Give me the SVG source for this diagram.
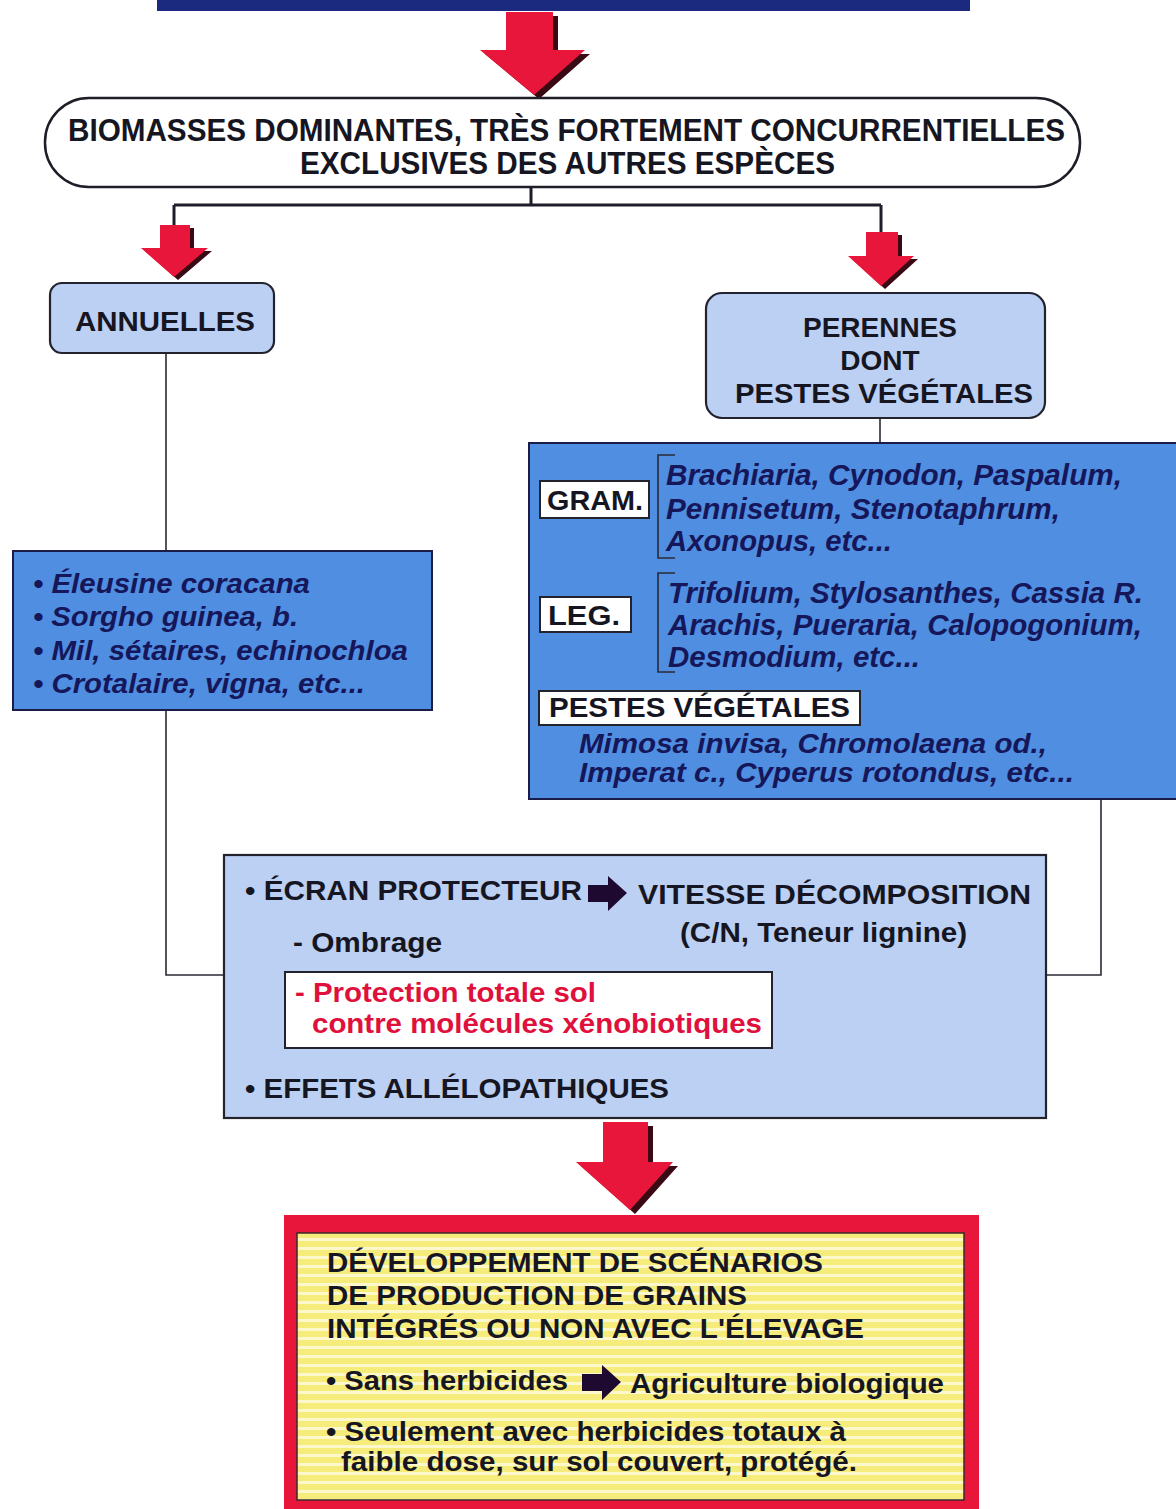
<svg xmlns="http://www.w3.org/2000/svg" width="1176" height="1509" viewBox="0 0 1176 1509">
<style>
.t{font-family:"Liberation Sans",Arial,sans-serif;font-weight:bold;fill:#161622}
.it{font-family:"Liberation Sans",Arial,sans-serif;font-weight:bold;font-style:italic;fill:#16165a}
.red{fill:#e0103c}
.arr{fill:#e8163a}
.sh{fill:#3a0a14}
.con{fill:none;stroke:#1e1e2a;stroke-width:3}
.thin{fill:none;stroke:#2a2a35;stroke-width:1.6}
.lb{fill:#bcd0f4;stroke:#23232e;stroke-width:2.2}
.db{fill:#4f8ee0;stroke:#1c1c48;stroke-width:2}
.wb{fill:#ffffff;stroke:#23232e;stroke-width:2}
.da{fill:#1e0a30}
</style>
<defs>
<pattern id="stripes" width="10" height="9" patternUnits="userSpaceOnUse">
<rect width="10" height="9" fill="#f5ec7c"/>
<rect y="5" width="10" height="3" fill="#fcf8cc"/>
</pattern>
</defs>

<g id="topbar"><rect x="157" y="0" width="813" height="11" fill="#1b2a7e"/></g>

<g id="connectors">
<path class="con" d="M531 187 V205 M174 205 H881 M174 205 V226 M881 205 V233"/>
<path class="thin" d="M166 353 V552 M166 710 V975 H224 M880 418 V443 M1101 800 V975 H1046"/>
<g id="arrow-top">
<polygon class="sh" transform="translate(5,4)" points="506,12 553,12 553,50 585,50 534,95 480,50 506,50"/>
<polygon class="arr" points="506,12 553,12 553,50 585,50 534,95 480,50 506,50"/>
</g>
<g id="arrow-left">
<polygon class="sh" transform="translate(4,3)" points="160,225 190,225 190,248 208,248 174,277 141,248 160,248"/>
<polygon class="arr" points="160,225 190,225 190,248 208,248 174,277 141,248 160,248"/>
</g>
<g id="arrow-right">
<polygon class="sh" transform="translate(4,3)" points="866,232 898,232 898,256 914,256 881,286 848,256 866,256"/>
<polygon class="arr" points="866,232 898,232 898,256 914,256 881,286 848,256 866,256"/>
</g>
<g id="arrow-bottom">
<polygon class="sh" transform="translate(5,4)" points="603,1122 648,1122 648,1162 673,1162 630,1210 576,1162 603,1162"/>
<polygon class="arr" points="603,1122 648,1122 648,1162 673,1162 630,1210 576,1162 603,1162"/>
</g>
</g>

<g id="biomasses">
<rect x="45" y="98" width="1035" height="89" rx="44" fill="#ffffff" stroke="#1e1e28" stroke-width="2.5"/>
<text class="t" x="68" y="141" font-size="31" textLength="997" lengthAdjust="spacingAndGlyphs">BIOMASSES DOMINANTES, TRÈS FORTEMENT CONCURRENTIELLES</text>
<text class="t" x="300" y="174" font-size="31" textLength="535" lengthAdjust="spacingAndGlyphs">EXCLUSIVES DES AUTRES ESPÈCES</text>
</g>

<g id="annuelles">
<rect class="lb" x="50" y="283" width="224" height="70" rx="12"/>
<text class="t" x="75" y="331" font-size="28" textLength="180" lengthAdjust="spacingAndGlyphs">ANNUELLES</text>
</g>

<g id="perennes">
<rect class="lb" x="706" y="293" width="339" height="125" rx="16"/>
<text class="t" x="880" y="337" font-size="28" text-anchor="middle">PERENNES</text>
<text class="t" x="880" y="370" font-size="28" text-anchor="middle">DONT</text>
<text class="t" x="884" y="403" font-size="28" text-anchor="middle" textLength="298" lengthAdjust="spacingAndGlyphs">PESTES VÉGÉTALES</text>
</g>

<g id="annuelles-list">
<rect class="db" x="13" y="551" width="419" height="159"/>
<text class="it" x="33" y="593" font-size="27" textLength="277" lengthAdjust="spacingAndGlyphs">• Éleusine coracana</text>
<text class="it" x="33" y="626" font-size="27" textLength="265" lengthAdjust="spacingAndGlyphs">• Sorgho guinea, b.</text>
<text class="it" x="33" y="660" font-size="27" textLength="375" lengthAdjust="spacingAndGlyphs">• Mil, sétaires, echinochloa</text>
<text class="it" x="33" y="693" font-size="27" textLength="332" lengthAdjust="spacingAndGlyphs">• Crotalaire, vigna, etc...</text>
</g>

<g id="perennes-list">
<rect class="db" x="529" y="443" width="660" height="356"/>
<rect class="wb" x="540" y="481" width="109" height="37"/>
<text class="t" x="547" y="510" font-size="28" textLength="96" lengthAdjust="spacingAndGlyphs">GRAM.</text>
<path class="thin" d="M675 455 H658 V558 H675 M675 573 H658 V672 H675" stroke-width="2"/>
<text class="it" x="666" y="485" font-size="29" textLength="456" lengthAdjust="spacingAndGlyphs">Brachiaria, Cynodon, Paspalum,</text>
<text class="it" x="666" y="519" font-size="29" textLength="394" lengthAdjust="spacingAndGlyphs">Pennisetum, Stenotaphrum,</text>
<text class="it" x="666" y="551" font-size="29" textLength="226" lengthAdjust="spacingAndGlyphs">Axonopus, etc...</text>
<rect class="wb" x="540" y="597" width="91" height="35"/>
<text class="t" x="548" y="625" font-size="28" textLength="72" lengthAdjust="spacingAndGlyphs">LEG.</text>
<text class="it" x="668" y="603" font-size="29" textLength="475" lengthAdjust="spacingAndGlyphs">Trifolium, Stylosanthes, Cassia R.</text>
<text class="it" x="668" y="635" font-size="29" textLength="474" lengthAdjust="spacingAndGlyphs">Arachis, Pueraria, Calopogonium,</text>
<text class="it" x="668" y="667" font-size="29" textLength="252" lengthAdjust="spacingAndGlyphs">Desmodium, etc...</text>
<rect class="wb" x="539" y="691" width="321" height="34"/>
<text class="t" x="549" y="717" font-size="28" textLength="301" lengthAdjust="spacingAndGlyphs">PESTES VÉGÉTALES</text>
<text class="it" x="579" y="753" font-size="28" textLength="468" lengthAdjust="spacingAndGlyphs">Mimosa invisa, Chromolaena od.,</text>
<text class="it" x="579" y="782" font-size="28" textLength="495" lengthAdjust="spacingAndGlyphs">Imperat c., Cyperus rotondus, etc...</text>
</g>

<g id="ecran">
<rect class="lb" x="224" y="855" width="822" height="263"/>
<text class="t" x="245" y="900" font-size="28" textLength="337" lengthAdjust="spacingAndGlyphs">• ÉCRAN PROTECTEUR</text>
<polygon class="da" points="588,885 608,885 608,876 627,893 608,911 608,902 588,902"/>
<text class="t" x="638" y="904" font-size="28" textLength="393" lengthAdjust="spacingAndGlyphs">VITESSE  DÉCOMPOSITION</text>
<text class="t" x="680" y="942" font-size="28" textLength="287" lengthAdjust="spacingAndGlyphs">(C/N, Teneur lignine)</text>
<text class="t" x="293" y="952" font-size="28" textLength="149" lengthAdjust="spacingAndGlyphs">- Ombrage</text>
<rect class="wb" x="285" y="972" width="487" height="76"/>
<text class="t red" x="295" y="1002" font-size="28" textLength="301" lengthAdjust="spacingAndGlyphs">- Protection totale sol</text>
<text class="t red" x="312" y="1033" font-size="28" textLength="450" lengthAdjust="spacingAndGlyphs">contre molécules xénobiotiques</text>
<text class="t" x="245" y="1098" font-size="28" textLength="424" lengthAdjust="spacingAndGlyphs">• EFFETS ALLÉLOPATHIQUES</text>
</g>

<g id="scenarios">
<rect x="284" y="1215" width="695" height="294" fill="#e8163a"/>
<rect x="297" y="1233" width="667" height="267" fill="url(#stripes)" stroke="#3a2a2a" stroke-width="1.5"/>
<text class="t" x="327" y="1272" font-size="28" textLength="496" lengthAdjust="spacingAndGlyphs">DÉVELOPPEMENT DE SCÉNARIOS</text>
<text class="t" x="327" y="1305" font-size="28" textLength="420" lengthAdjust="spacingAndGlyphs">DE PRODUCTION DE GRAINS</text>
<text class="t" x="327" y="1338" font-size="28" textLength="537" lengthAdjust="spacingAndGlyphs">INTÉGRÉS OU NON AVEC L'ÉLEVAGE</text>
<text class="t" x="326" y="1390" font-size="28" textLength="242" lengthAdjust="spacingAndGlyphs">• Sans herbicides</text>
<polygon class="da" points="582,1374 602,1374 602,1365 621,1382 602,1400 602,1391 582,1391"/>
<text class="t" x="630" y="1393" font-size="28" textLength="314" lengthAdjust="spacingAndGlyphs">Agriculture biologique</text>
<text class="t" x="326" y="1441" font-size="28" textLength="520" lengthAdjust="spacingAndGlyphs">• Seulement avec herbicides totaux à</text>
<text class="t" x="341" y="1471" font-size="28" textLength="516" lengthAdjust="spacingAndGlyphs">faible dose, sur sol couvert, protégé.</text>
</g>
</svg>
